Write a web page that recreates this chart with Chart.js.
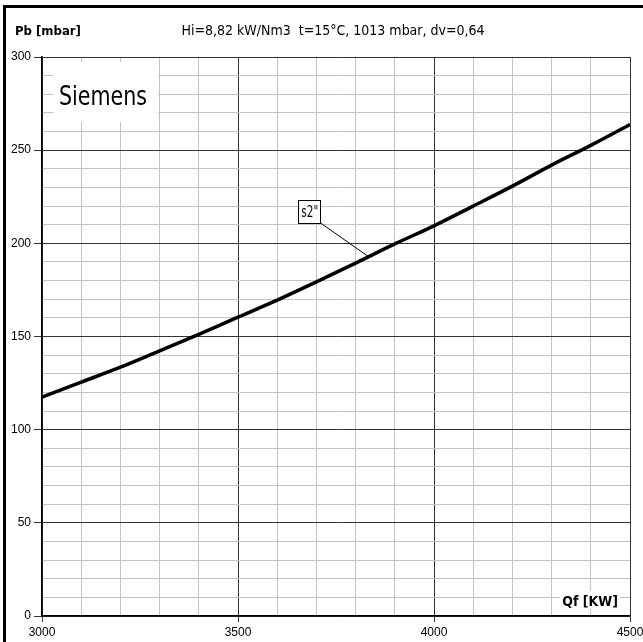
<!DOCTYPE html>
<html>
<head>
<meta charset="utf-8">
<script src="https://cdn.jsdelivr.net/npm/chart.js@4"></script>
<style>
  html, body { margin: 0; padding: 0; background: #fff; overflow: hidden; }
  #wrap { width: 643px; height: 642px; position: relative; }
  canvas { display: block; }
</style>
</head>
<body>
<div id="wrap"><canvas id="pressureChart"></canvas></div>
<script>
// Burner output (kW) and pressure Pb (mbar)
const outputKW = [3000, 3100, 3200, 3300, 3400, 3500, 3600, 3700, 3800, 3900, 4000, 4100, 4200, 4300, 4400, 4500];
const pressureMbar = [117.5, 125.5, 133.5, 142.3, 151.2, 160.4, 169.5, 179.3, 189.4, 199.7, 209.4, 220, 230.7, 242, 252.6, 263.8];

const yAxisTitle = "Pb [mbar]";
const xAxisTitle = "Qf [KW]";
const chartTitle = "Hi=8,82 kW/Nm3  t=15°C, 1013 mbar, dv=0,64";
const brandLabel = "Siemens";
const seriesLabel = 's2"';
// label box corner and the point on the curve it points to (data units)
const seriesLabelAt = [3710, 211];
const seriesLabelTarget = [3832, 193];

const FONT = "'Liberation Sans', Arial, sans-serif";
const NARROW = "'Liberation Sans Narrow', 'DejaVu Sans Condensed', 'Liberation Sans', sans-serif";

// text squeezed to a given width, to imitate the narrow original font
function fitText(ctx, text, x, y, width) {
  const w = ctx.measureText(text).width;
  const k = Math.min(1, width / w);
  ctx.save();
  ctx.translate(x, y);
  ctx.scale(k, 1);
  ctx.fillText(text, 0, 0);
  ctx.restore();
}

// draws the frame, header texts and the two labels
const decorations = {
  id: "decorations",
  beforeDraw(chart) {
    const ctx = chart.ctx;
    ctx.save();
    ctx.fillStyle = "#fff";
    ctx.fillRect(0, 0, chart.width, chart.height);
    ctx.restore();
  },
  afterDraw(chart) {
    const ctx = chart.ctx;
    const x = chart.scales.x, y = chart.scales.y;
    ctx.save();

    // outer frame (only top and left are visible)
    ctx.strokeStyle = "#000";
    ctx.lineWidth = 3;
    ctx.strokeRect(4.5, 6.5, 800, 800);

    // header
    ctx.fillStyle = "#000";
    ctx.textBaseline = "alphabetic";
    ctx.font = "bold 13px " + NARROW;
    ctx.textAlign = "left";
    ctx.fillText(yAxisTitle, 15, 35);
    ctx.font = "14px " + NARROW;
    ctx.textAlign = "center";
    ctx.fillText(chartTitle, 333, 35);

    // brand box
    ctx.fillStyle = "#fff";
    ctx.fillRect(53, 62, 105, 60);
    ctx.fillStyle = "#000";
    ctx.font = "27px " + NARROW;
    ctx.textAlign = "left";
    fitText(ctx, brandLabel, 59, 105, 88);

    // x axis title
    ctx.font = "bold 14px " + NARROW;
    ctx.textAlign = "right";
    const tw = ctx.measureText(xAxisTitle).width;
    ctx.fillStyle = "#fff";
    ctx.fillRect(618 - tw - 2, 591, tw + 4, 18);
    ctx.fillStyle = "#000";
    ctx.fillText(xAxisTitle, 618, 606);

    // series label with leader line
    const bx = x.getPixelForValue(seriesLabelAt[0]);
    const by = y.getPixelForValue(seriesLabelAt[1]);
    const tx = x.getPixelForValue(seriesLabelTarget[0]);
    const ty = y.getPixelForValue(seriesLabelTarget[1]);
    ctx.lineWidth = 1;
    ctx.strokeStyle = "#000";
    ctx.beginPath();
    ctx.moveTo(bx, by);
    ctx.lineTo(tx, ty);
    ctx.stroke();
    ctx.fillStyle = "#fff";
    ctx.fillRect(bx - 22, by - 23, 22, 23);
    ctx.strokeRect(Math.round(bx - 22) + 0.5, Math.round(by - 23) + 0.5, 22, 23);
    ctx.fillStyle = "#000";
    ctx.font = "15px " + NARROW;
    ctx.textAlign = "left";
    fitText(ctx, seriesLabel, bx - 19, by - 6, 17);

    ctx.restore();
  }
};

const ctx = document.getElementById("pressureChart").getContext("2d");
new Chart(ctx, {
  type: "line",
  data: {
    datasets: [
      {
        label: seriesLabel,
        data: outputKW.map((q, i) => ({ x: q, y: pressureMbar[i] })),
        borderColor: "#000",
        borderWidth: 3.5,
        pointRadius: 0,
        cubicInterpolationMode: "monotone",
        fill: false,
      },
    ],
  },
  options: {
    responsive: true,
    maintainAspectRatio: false,
    animation: false,
    layout: { padding: { left: 0, top: 57, right: 13, bottom: 0 } },
    plugins: {
      legend: { display: false },
      tooltip: { enabled: false },
    },
    scales: {
      x: {
        type: "linear",
        min: 3000,
        max: 4500,
        afterFit: (s) => { s.height = 26; s.paddingLeft = 0; s.paddingRight = 0; },
        ticks: {
          stepSize: 100,
          autoSkip: false,
          maxRotation: 0,
          padding: 3,
          color: "#000",
          font: { family: FONT, size: 12 },
          callback: (v) => (v % 500 === 0 ? v : ""),
        },
        grid: {
          color: (c) => (c.tick && c.tick.value % 500 === 0 ? "#333" : "#c4c4c4"),
          tickColor: (c) => (c.tick && c.tick.value % 500 === 0 ? "#333" : "rgba(0,0,0,0)"),
          tickLength: 6,
          lineWidth: 1,
        },
        border: { color: "#000", width: 1.5 },
      },
      y: {
        type: "linear",
        min: 0,
        max: 300,
        afterFit: (s) => { s.width = 42; },
        ticks: {
          stepSize: 10,
          autoSkip: false,
          padding: 3,
          color: "#000",
          font: { family: FONT, size: 12 },
          callback: (v) => (v % 50 === 0 ? v : ""),
        },
        grid: {
          color: (c) => (c.tick && c.tick.value % 50 === 0 ? "#333" : "#c4c4c4"),
          tickColor: (c) => (c.tick && c.tick.value % 50 === 0 ? "#333" : "rgba(0,0,0,0)"),
          tickLength: 8,
          lineWidth: 1,
        },
        border: { color: "#000", width: 1.5 },
      },
    },
  },
  plugins: [decorations],
});
</script>
</body>
</html>
